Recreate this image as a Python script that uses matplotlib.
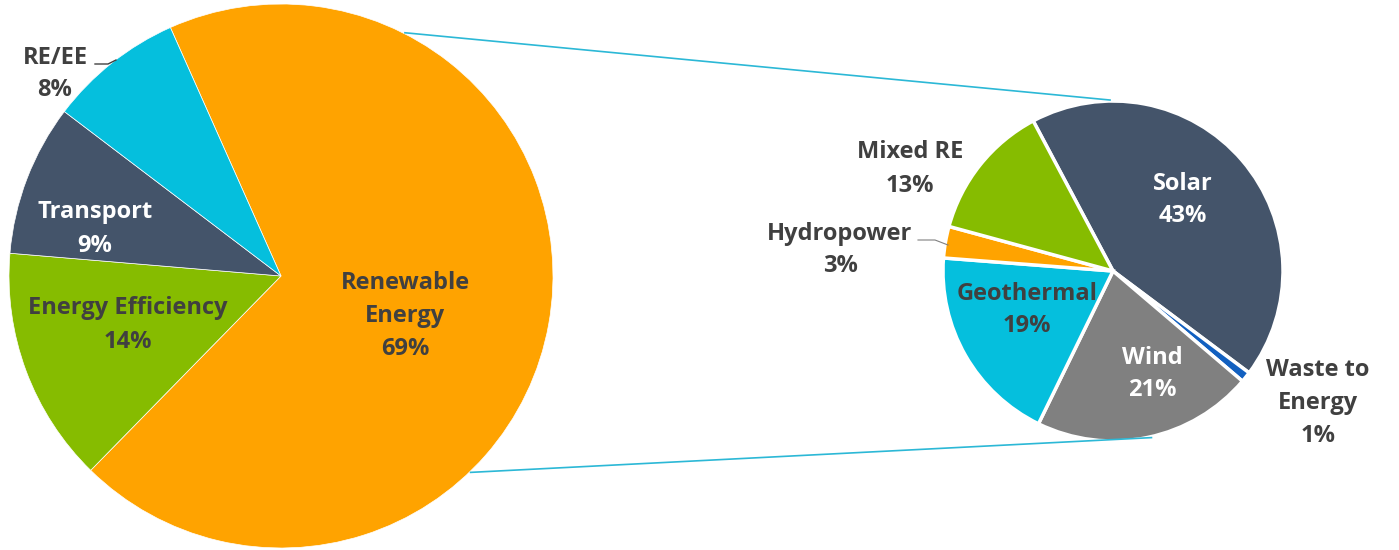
import numpy as np
import matplotlib
matplotlib.use('Agg')
import matplotlib.pyplot as plt

# data
main_labels = ['Renewable\nEnergy', 'Energy Efficiency', 'Transport', 'RE/EE']
main_values = [69, 14, 9, 8]
main_colors = ['#FFA300', '#86BC00', '#44546A', '#05BFDD']

sub_labels = ['Solar', 'Waste to\nEnergy', 'Wind', 'Geothermal', 'Hydropower', 'Mixed RE']
sub_values = [43, 1, 21, 19, 3, 13]
sub_colors = ['#44546A', '#1260C0', '#808080', '#05BFDD', '#FFA300', '#86BC00']

W, H = 1399, 550
plt.rcParams['font.family'] = ['Open Sans', 'DejaVu Sans']

fig = plt.figure(figsize=(W / 100, H / 100), dpi=100)
ax = fig.add_axes([0, 0, 1, 1])

big_c, big_r = (281, H - 276), 272
small_c, small_r = (1113, H - 271), 170

ax.pie(main_values, colors=main_colors, startangle=114, counterclock=False,
       center=big_c, radius=big_r, wedgeprops=dict(linewidth=0.5, edgecolor='white'))
ax.pie(sub_values, colors=sub_colors, startangle=118, counterclock=False,
       center=small_c, radius=small_r, wedgeprops=dict(linewidth=2.5, edgecolor='white'))

ax.set_xlim(0, W)
ax.set_ylim(0, H)
ax.set_aspect('equal')
ax.axis('off')

# connector lines
def on_circle(c, r, ang):
    a = np.deg2rad(ang)
    return c[0] + r * np.cos(a), c[1] + r * np.sin(a)

for a1, a2 in [(63, 91), (-46, -77)]:
    x1, y1 = on_circle(big_c, big_r + 1, a1)
    x2, y2 = on_circle(small_c, small_r + 1, a2)
    ax.plot([x1, x2], [y1, y2], color='#2CB8D6', lw=1.2)

dark = '#404040'
fs = 17

def pct_label(name, v):
    return f'{name}\n{v}%'

# label positions (image px, y down) for each slice
main_pos = [(405, 316, dark), (128, 325, dark), (95, 229, 'white'), (55, 74, dark)]
sub_pos = [(1183, 200, 'white'), (1318, 403, dark), (1152, 374, 'white'),
           (1027, 310, dark), (840, 250, dark), (910, 169, dark)]

for lab, v, (x, y, c) in zip(main_labels, main_values, main_pos):
    ax.text(x, H - y, pct_label(lab, v), ha='center', va='center', fontsize=fs,
            fontweight='bold', color=c, linespacing=1.5)
for lab, v, (x, y, c) in zip(sub_labels, sub_values, sub_pos):
    ax.text(x, H - y, pct_label(lab, v), ha='center', va='center', fontsize=fs,
            fontweight='bold', color=c, linespacing=1.5)

# leader lines
ax.plot([95, 108, 116], [H - 64, H - 64, H - 60], color=dark, lw=1)
ax.plot([918, 935, 948], [H - 240, H - 240, H - 245], color='#808080', lw=0.8)

fig.savefig('out.png', dpi=100)
